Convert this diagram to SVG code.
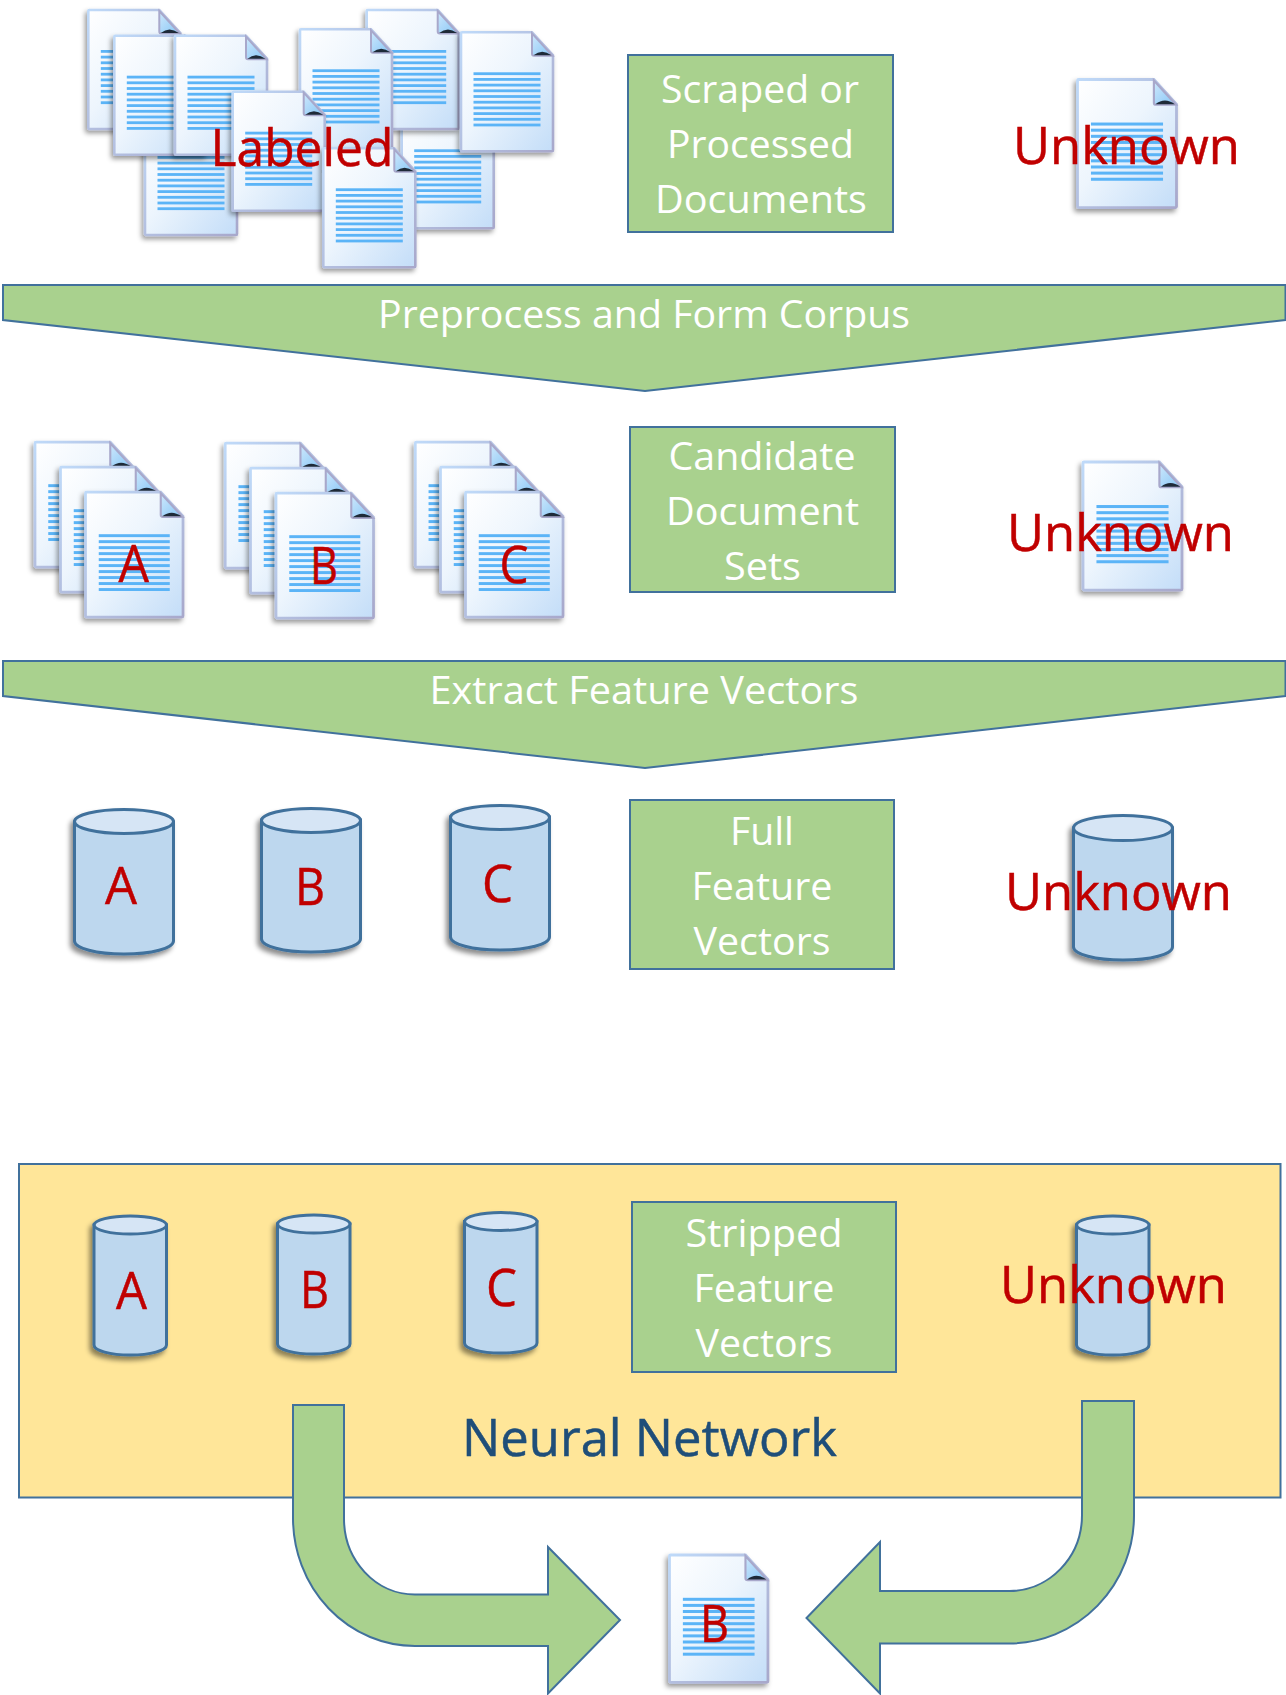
<svg xmlns="http://www.w3.org/2000/svg" xmlns:xlink="http://www.w3.org/1999/xlink" width="1286" height="1695" viewBox="0 0 1286 1695">
<style>
text{font-family:"Open Sans","Noto Sans","Liberation Sans",sans-serif}
.w{fill:#fff;font-size:38px}
.r{fill:#C00000;font-size:52px;stroke:#C00000;stroke-width:.5}
.n{fill:#1F4E79;font-size:52px;stroke:#1F4E79;stroke-width:.5}
.g{fill:#A9D18E;stroke:#41719C;stroke-width:2}
.c{fill:#BDD7EE;stroke:#41719C;stroke-width:3}
.ct{fill:#D6E5F5;stroke:#41719C;stroke-width:3}
.cy{filter:url(#cs)}
.d{filter:url(#ds)}
.l{fill:#5BB4F7}
</style>
<defs>
<filter id="ds" x="-15%" y="-10%" width="130%" height="125%"><feDropShadow dx="-2" dy="3" stdDeviation="2.500" flood-color="#000" flood-opacity=".4"/></filter>
<filter id="cs" x="-15%" y="-10%" width="130%" height="125%"><feDropShadow dx="-3" dy="4" stdDeviation="2.500" flood-color="#000" flood-opacity=".45"/></filter>
<linearGradient id="df" x1="0" y1="0" x2="1" y2="1"><stop offset="0" stop-color="#fff"/><stop offset=".45" stop-color="#EDF5FD"/><stop offset="1" stop-color="#C3DDF8"/></linearGradient>
<linearGradient id="ds2" x1="0" y1="0" x2="1" y2="1"><stop offset="0" stop-color="#BFDAF9"/><stop offset=".5" stop-color="#B3BFE0"/><stop offset="1" stop-color="#A8A8CB"/></linearGradient>
<linearGradient id="ff" x1="0" y1="0" x2="1" y2="1"><stop offset="0" stop-color="#CFE8FC"/><stop offset="1" stop-color="#86C6F6"/></linearGradient>
<g id="doc">
<g class="d"><path d="M1,0H71L92,23V118a1,1 0 0 1-1,1H1a1,1 0 0 1-1-1V1a1,1 0 0 1 1-1Z" fill="url(#df)" stroke="url(#ds2)" stroke-width="2.600"/></g>
<path d="M71,1L91.500,23.500H73Q71,23.500 71,21.500Z" fill="url(#ff)" stroke="#A8A8CB" stroke-width="2"/>
<path d="M72.500,23Q81,16 90.500,23Z" fill="#1E2A38"/>
<g class="l"><rect x="12.500" y="40" width="67" height="2.800"/><rect x="12.500" y="45.700" width="67" height="2.800"/><rect x="12.500" y="51.400" width="67" height="2.800"/><rect x="12.500" y="57.100" width="67" height="2.800"/><rect x="12.500" y="62.800" width="67" height="2.800"/><rect x="12.500" y="68.500" width="67" height="2.800"/><rect x="12.500" y="74.200" width="67" height="2.800"/><rect x="12.500" y="79.900" width="67" height="2.800"/><rect x="12.500" y="85.600" width="67" height="2.800"/><rect x="12.500" y="91.300" width="67" height="2.800"/></g>
</g>
</defs>
<rect width="1286" height="1695" fill="#fff"/>

<g id="labeled-documents">
<use href="#doc" transform="translate(88.300,10)"/>
<use href="#doc" transform="translate(145,116)"/>
<use href="#doc" transform="translate(114.300,35.700)"/>
<use href="#doc" transform="translate(175,35.700)"/>
<use href="#doc" transform="translate(401.700,109.300)"/>
<use href="#doc" transform="translate(366.700,10)"/>
<use href="#doc" transform="translate(300,29.300)"/>
<use href="#doc" transform="translate(461,32.300)"/>
<use href="#doc" transform="translate(232.700,91.700)"/>
<use href="#doc" transform="translate(323.300,148.300)"/>
<text class="r" x="210.500" y="165.700" textLength="183" lengthAdjust="spacingAndGlyphs">Labeled</text>
</g>
<g id="box-scraped">
<rect class="g" x="628" y="55" width="265" height="177"/>
<text class="w" x="661" y="103" textLength="198" lengthAdjust="spacingAndGlyphs">Scraped or</text>
<text class="w" x="667" y="158" textLength="187" lengthAdjust="spacingAndGlyphs">Processed</text>
<text class="w" x="655" y="213" textLength="212" lengthAdjust="spacingAndGlyphs">Documents</text>
</g>
<g id="unknown-doc-1">
<use href="#doc" transform="translate(1077.500,79.500) scale(1.076,1.076)"/>
<text class="r" x="1013" y="164" textLength="227" lengthAdjust="spacingAndGlyphs">Unknown</text>
</g>
<g id="banner-preprocess">
<path class="g" d="M3,285H1285.500V320L645,391L3,320Z"/>
<text class="w" x="378" y="328" textLength="532" lengthAdjust="spacingAndGlyphs">Preprocess and Form Corpus</text>
</g>

<g id="stack-a">
<use href="#doc" transform="translate(35,442.200) scale(1.06,1.05)"/>
<use href="#doc" transform="translate(60.500,467.200) scale(1.06,1.05)"/>
<use href="#doc" transform="translate(85.500,492.200) scale(1.06,1.05)"/>
<text class="r" x="118.600" y="581.700" textLength="30.500" lengthAdjust="spacingAndGlyphs">A</text>
</g>
<g id="stack-b">
<use href="#doc" transform="translate(225.200,443.200) scale(1.06,1.05)"/>
<use href="#doc" transform="translate(250.500,468.200) scale(1.06,1.05)"/>
<use href="#doc" transform="translate(276,493.200) scale(1.06,1.05)"/>
<text class="r" x="310" y="584" textLength="28" lengthAdjust="spacingAndGlyphs">B</text>
</g>
<g id="stack-c">
<use href="#doc" transform="translate(415.300,442.200) scale(1.06,1.05)"/>
<use href="#doc" transform="translate(440.500,467.200) scale(1.06,1.05)"/>
<use href="#doc" transform="translate(465.500,492.200) scale(1.06,1.05)"/>
<text class="r" x="499.500" y="582.700" textLength="29" lengthAdjust="spacingAndGlyphs">C</text>
</g>
<g id="box-candidate">
<rect class="g" x="630" y="427" width="265" height="165"/>
<text class="w" x="668.500" y="470" textLength="187" lengthAdjust="spacingAndGlyphs">Candidate</text>
<text class="w" x="666" y="525" textLength="193" lengthAdjust="spacingAndGlyphs">Document</text>
<text class="w" x="724" y="580" textLength="77" lengthAdjust="spacingAndGlyphs">Sets</text>
</g>
<g id="unknown-doc-2">
<use href="#doc" transform="translate(1083,462) scale(1.076,1.076)"/>
<text class="r" x="1007" y="551" textLength="227" lengthAdjust="spacingAndGlyphs">Unknown</text>
</g>
<g id="banner-extract">
<path class="g" d="M3,661H1285.500V696L645,768L3,696Z"/>
<text class="w" x="429.500" y="704" textLength="429" lengthAdjust="spacingAndGlyphs">Extract Feature Vectors</text>
</g>

<g id="full-a" class="cy"><path class="c" d="M74.500,822V941a49.500,13 0 0 0 99,0V822Z"/><ellipse class="ct" cx="124" cy="821.500" rx="49.500" ry="12"/><text class="r" x="105" y="903.500" textLength="32" lengthAdjust="spacingAndGlyphs">A</text></g>
<g id="full-b" class="cy"><path class="c" d="M261.500,820V939a49.500,13 0 0 0 99,0V820Z"/><ellipse class="ct" cx="311" cy="820.500" rx="49.500" ry="12"/><text class="r" x="295" y="904.500" textLength="30" lengthAdjust="spacingAndGlyphs">B</text></g>
<g id="full-c" class="cy"><path class="c" d="M450.500,817V937a49.500,13 0 0 0 99,0V817Z"/><ellipse class="ct" cx="500" cy="817.500" rx="49.500" ry="12"/><text class="r" x="482" y="902" textLength="31" lengthAdjust="spacingAndGlyphs">C</text></g>
<g id="box-full">
<rect class="g" x="630" y="800" width="264" height="169"/>
<text class="w" x="730" y="845" textLength="64" lengthAdjust="spacingAndGlyphs">Full</text>
<text class="w" x="691.500" y="900" textLength="141" lengthAdjust="spacingAndGlyphs">Feature</text>
<text class="w" x="693.500" y="955" textLength="137" lengthAdjust="spacingAndGlyphs">Vectors</text>
</g>
<g id="full-unknown">
<g class="cy"><path class="c" d="M1073.500,828V947a49.500,13 0 0 0 99,0V828Z"/><ellipse class="ct" cx="1123" cy="828" rx="49.500" ry="12.500"/></g>
<text class="r" x="1005" y="910" textLength="227" lengthAdjust="spacingAndGlyphs">Unknown</text>
</g>

<g id="neural-network">
<rect x="19" y="1164" width="1261.500" height="333.500" fill="#FFE699" stroke="#41719C" stroke-width="2"/>
<text class="n" x="462" y="1456" textLength="375" lengthAdjust="spacingAndGlyphs">Neural Network</text>
</g>
<g id="stripped-a" class="cy"><path class="c" d="M94,1225V1345a36,10 0 0 0 72.500,0V1225Z"/><ellipse class="ct" cx="130.300" cy="1225" rx="36.200" ry="9"/><text class="r" x="116" y="1308.700" textLength="31" lengthAdjust="spacingAndGlyphs">A</text></g>
<g id="stripped-b" class="cy"><path class="c" d="M277.500,1224V1344a36,10 0 0 0 72.500,0V1224Z"/><ellipse class="ct" cx="313.800" cy="1224" rx="36.200" ry="9"/><text class="r" x="300" y="1307.600" textLength="29" lengthAdjust="spacingAndGlyphs">B</text></g>
<g id="stripped-c" class="cy"><path class="c" d="M464.500,1221.500V1343a36,10 0 0 0 72.500,0V1221.500Z"/><ellipse class="ct" cx="500.800" cy="1221.500" rx="36.200" ry="9"/><text class="r" x="486" y="1305.500" textLength="31" lengthAdjust="spacingAndGlyphs">C</text></g>
<g id="box-stripped">
<rect class="g" x="632" y="1202" width="264" height="170"/>
<text class="w" x="685.500" y="1247" textLength="157" lengthAdjust="spacingAndGlyphs">Stripped</text>
<text class="w" x="693.500" y="1302" textLength="141" lengthAdjust="spacingAndGlyphs">Feature</text>
<text class="w" x="695.500" y="1357" textLength="137" lengthAdjust="spacingAndGlyphs">Vectors</text>
</g>
<g id="stripped-unknown">
<g class="cy"><path class="c" d="M1076.500,1225V1345a36,10 0 0 0 72.500,0V1225Z"/><ellipse class="ct" cx="1112.800" cy="1225" rx="36.200" ry="9"/></g>
<text class="r" x="1000" y="1303" textLength="227" lengthAdjust="spacingAndGlyphs">Unknown</text>
</g>

<g id="connectors">
<path class="g" d="M293,1405H344V1518A71,76 0 0 0 415,1594.500H548V1547L620,1620L548,1693.500V1646H415A122,128 0 0 1 293,1518Z"/>
<path class="g" d="M1134,1401H1082V1515A72.500,76 0 0 1 1009,1591H880V1542L806.500,1618L880,1693.500V1643.500H1009A125.500,128 0 0 0 1134,1515Z"/>
</g>

<g id="result-doc">
<use href="#doc" transform="translate(669.500,1555) scale(1.07,1.07)"/>
<text class="r" x="700" y="1641.700" textLength="29" lengthAdjust="spacingAndGlyphs">B</text>
</g>
</svg>
